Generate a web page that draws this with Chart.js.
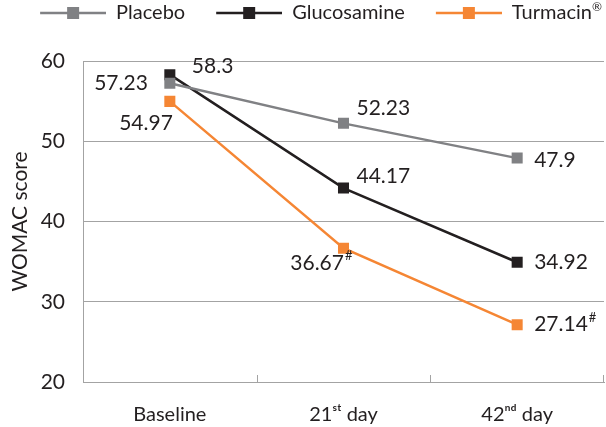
<!DOCTYPE html>
<html>
<head>
<meta charset="utf-8">
<script src="https://cdn.jsdelivr.net/npm/chart.js@4/dist/chart.umd.min.js"></script>
<style>
  html, body { margin: 0; padding: 0; background: #fff; }
  #wrap { width: 606px; height: 427px; }
</style>
</head>
<body>
<div id="wrap"><canvas id="womacChart"></canvas></div>
<script>
const timepoints = ['Baseline', '21\u02E2\u1D57 day', '42\u207F\u1D48 day'];
const placeboScores = [57.23, 52.23, 47.9];
const glucosamineScores = [58.3, 44.17, 34.92];
const turmacinScores = [54.97, 36.67, 27.14];
const turmacinMarks = ['', '#', '#'];   // significance marks next to the value
const yTicks = [20, 30, 40, 50, 60];

const FONT = 'Lato, "DejaVu Sans", sans-serif';
const INK = '#231f20';
const GREY_LINE = '#a3a3a3';

// where each value label sits relative to its point: [dx, dy, align]
const labelSpots = [
    [[-22, 0, 'right'], [13, -15, 'left'], [17, 2, 'left']],
    [[22, -8, 'left'], [13, -12, 'left'], [17, 0, 'left']],
    [[3, 22, 'right'], [9, 15, 'right'], [17, 0, 'left']]
];

// "line with a square" picture for the legend, with some empty room on the left
function legendSwatch(color) {
    const c = document.createElement('canvas');
    c.width = 94;
    c.height = 14;
    const ctx = c.getContext('2d');
    ctx.strokeStyle = color;
    ctx.lineWidth = 2.5;
    ctx.beginPath();
    ctx.moveTo(28, 7);
    ctx.lineTo(94, 7);
    ctx.stroke();
    ctx.fillStyle = color;
    ctx.fillRect(55, 1, 12, 12);
    return c;
}

function makeSeries(label, values, color) {
    return {
        label: label,
        data: values,
        borderColor: color,
        backgroundColor: color,
        borderWidth: 2.5,
        pointStyle: 'rect',
        pointRadius: 7.8,
        pointBorderWidth: 0,
        pointHoverRadius: 7.8,
        tension: 0,
        swatch: legendSwatch(color)
    };
}

const valueLabels = {
    id: 'valueLabels',
    afterDatasetsDraw(chart) {
        const ctx = chart.ctx;
        ctx.save();
        ctx.fillStyle = INK;
        ctx.textBaseline = 'middle';
        ctx.textAlign = 'left';
        chart.data.datasets.forEach((ds, di) => {
            const meta = chart.getDatasetMeta(di);
            meta.data.forEach((pt, i) => {
                const spot = labelSpots[di][i];
                const main = String(ds.data[i]);
                const sup = di === 2 ? turmacinMarks[i] : '';
                ctx.font = '21px ' + FONT;
                const wMain = ctx.measureText(main).width;
                ctx.font = '13px ' + FONT;
                const wSup = sup ? ctx.measureText(sup).width + 1 : 0;
                let x = pt.x + spot[0];
                const y = pt.y + spot[1];
                if (spot[2] === 'right') x -= wMain + wSup;
                ctx.font = '21px ' + FONT;
                ctx.fillText(main, x, y);
                if (sup) {
                    ctx.font = '13px ' + FONT;
                    ctx.fillText(sup, x + wMain + 1, y - 7);
                }
            });
        });
        ctx.restore();
    }
};

// short inward tick marks between the categories, plus the raised ® in the legend
const extras = {
    id: 'extras',
    afterInit(chart) {
        const lg = chart.legend;
        const fit = lg.fit;
        lg.fit = function() {
            fit.call(this);
            this.height = 61;
        };
    },
    afterDraw(chart) {
        const xs = chart.scales.x;
        const area = chart.chartArea;
        const ctx = chart.ctx;
        ctx.save();
        ctx.strokeStyle = GREY_LINE;
        ctx.lineWidth = 1;
        const step = xs.getPixelForValue(1) - xs.getPixelForValue(0);
        for (let i = 0; i < timepoints.length; i++) {
            const px = Math.min(Math.round(xs.getPixelForValue(i) + step / 2), Math.round(area.right) - 1) + 0.5;
            ctx.beginPath();
            ctx.moveTo(px, area.bottom);
            ctx.lineTo(px, area.bottom - 7);
            ctx.stroke();
        }
        const box = chart.legend.legendHitBoxes[2];
        if (box) {
            ctx.fillStyle = INK;
            ctx.font = '12px ' + FONT;
            ctx.textBaseline = 'middle';
            ctx.textAlign = 'left';
            ctx.fillText('\u00AE', box.left + box.width, box.top + 4);
        }
        ctx.restore();
    }
};

new Chart(document.getElementById('womacChart'), {
    type: 'line',
    data: {
        labels: timepoints,
        datasets: [
            makeSeries('Placebo', placeboScores, '#808184'),
            makeSeries('Glucosamine', glucosamineScores, INK),
            makeSeries('Turmacin\u00AE', turmacinScores, '#f58634')
        ]
    },
    options: {
        responsive: true,
        maintainAspectRatio: false,
        animation: false,
        layout: { autoPadding: false, padding: { left: 0, right: 2, top: 0, bottom: 0 } },
        plugins: {
            tooltip: { enabled: false },
            legend: {
                position: 'top',
                labels: {
                    color: INK,
                    font: { family: FONT, size: 20 },
                    usePointStyle: true,
                    pointStyleWidth: 94,
                    padding: 3,
                    generateLabels: function(chart) {
                        return chart.data.datasets.map((ds, i) => ({
                            text: ds.label.replace('\u00AE', ''),
                            pointStyle: ds.swatch,
                            fillStyle: ds.borderColor,
                            strokeStyle: ds.borderColor,
                            lineWidth: 0,
                            fontColor: INK,
                            datasetIndex: i
                        }));
                    }
                }
            }
        },
        scales: {
            x: {
                offset: true,
                afterFit: function(axis) {
                    axis.height = 45;
                    axis.paddingLeft = 0;
                    axis.paddingRight = 0;
                },
                grid: { display: false },
                border: { display: true, color: GREY_LINE, width: 1 },
                ticks: {
                    color: INK,
                    font: { family: FONT, size: 20 },
                    padding: 13
                }
            },
            y: {
                min: 20,
                max: 60,
                afterBuildTicks: function(axis) {
                    axis.ticks = yTicks.map(v => ({ value: v }));
                },
                afterFit: function(axis) { axis.width = 83; },
                grid: { color: GREY_LINE, drawTicks: false },
                border: { display: true, color: GREY_LINE, width: 1 },
                ticks: {
                    color: INK,
                    font: { family: FONT, size: 21 },
                    padding: 18
                },
                title: {
                    display: true,
                    text: 'WOMAC score',
                    color: INK,
                    font: { family: FONT, size: 21 },
                    padding: { top: 8, bottom: 0 }
                }
            }
        }
    },
    plugins: [valueLabels, extras]
});
</script>
</body>
</html>
